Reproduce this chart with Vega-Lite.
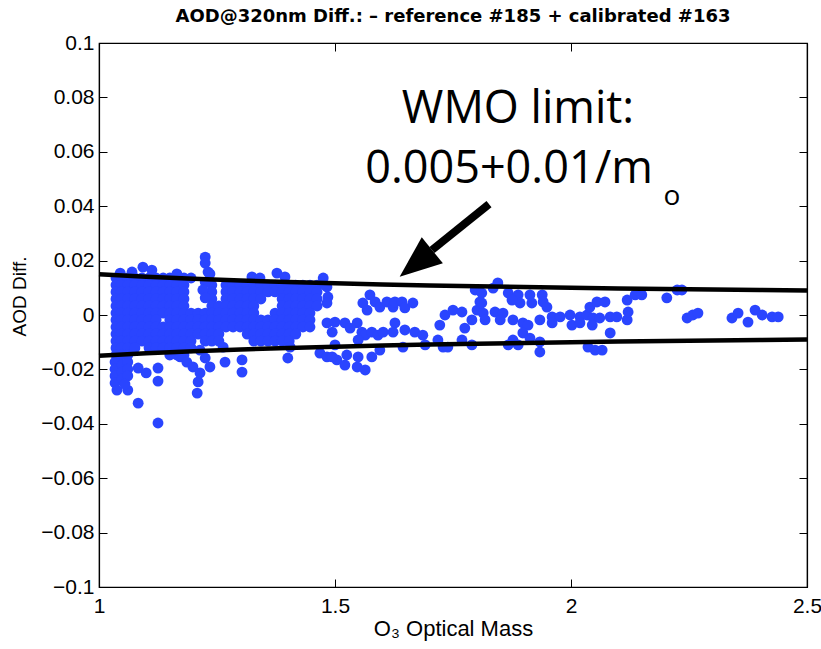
{
  "$schema": "https://vega.github.io/schema/vega-lite/v6.json",
  "width": 708,
  "height": 544,
  "autosize": {"type": "none"},
  "padding": {"left": 99, "top": 43, "right": 14, "bottom": 62},
  "background": "white",
  "title": {"text": "AOD@320nm Diff.: – reference #185 + calibrated #163", "font": "DejaVu Sans", "fontSize": 18, "fontWeight": "bold", "color": "black", "offset": 4, "dy": 12, "baseline": "alphabetic", "anchor": "middle"},
  "config": {
    "view": {"stroke": "black", "strokeWidth": 1.2},
    "axis": {"domain": true, "domainColor": "black", "domainWidth": 1.2, "tickColor": "black", "tickWidth": 1, "grid": false, "labelFont": "Liberation Sans", "labelFontSize": 21, "labelColor": "black", "titleFont": "Liberation Sans", "titleFontWeight": "normal", "titleColor": "black", "tickSize": -8, "labelFlush": false, "labelOverlap": false}
  },
  "datasets": {
    "pts": [
      {"m":1.036,"d":0.0136},{"m":1.047,"d":0.0136},{"m":1.061,"d":0.0136},{"m":1.076,"d":0.0136},{"m":1.091,"d":0.0136},{"m":1.106,"d":0.0136},{"m":1.121,"d":0.0136},{"m":1.136,"d":0.0136},{"m":1.150,"d":0.0136},{"m":1.165,"d":0.0136},{"m":1.180,"d":0.0136},{"m":1.195,"d":0.0136},
      {"m":1.036,"d":0.0110},{"m":1.047,"d":0.0110},{"m":1.061,"d":0.0110},{"m":1.076,"d":0.0110},{"m":1.091,"d":0.0110},{"m":1.106,"d":0.0110},{"m":1.121,"d":0.0110},{"m":1.136,"d":0.0110},{"m":1.150,"d":0.0110},{"m":1.165,"d":0.0110},{"m":1.180,"d":0.0110},
      {"m":1.036,"d":0.0085},{"m":1.047,"d":0.0085},{"m":1.061,"d":0.0085},{"m":1.076,"d":0.0085},{"m":1.091,"d":0.0085},{"m":1.106,"d":0.0085},{"m":1.121,"d":0.0085},{"m":1.136,"d":0.0085},{"m":1.150,"d":0.0085},{"m":1.165,"d":0.0085},{"m":1.180,"d":0.0085},
      {"m":1.036,"d":0.0059},{"m":1.047,"d":0.0059},{"m":1.061,"d":0.0059},{"m":1.076,"d":0.0059},{"m":1.091,"d":0.0059},{"m":1.106,"d":0.0059},{"m":1.121,"d":0.0059},{"m":1.136,"d":0.0059},{"m":1.150,"d":0.0059},{"m":1.165,"d":0.0059},{"m":1.180,"d":0.0059},
      {"m":1.036,"d":0.0033},{"m":1.047,"d":0.0033},{"m":1.061,"d":0.0033},{"m":1.076,"d":0.0033},{"m":1.091,"d":0.0033},{"m":1.106,"d":0.0033},{"m":1.121,"d":0.0033},{"m":1.136,"d":0.0033},{"m":1.150,"d":0.0033},{"m":1.165,"d":0.0033},{"m":1.180,"d":0.0033},
      {"m":1.036,"d":0.0007},{"m":1.047,"d":0.0007},{"m":1.061,"d":0.0007},{"m":1.076,"d":0.0007},{"m":1.091,"d":0.0007},{"m":1.106,"d":0.0007},{"m":1.121,"d":0.0007},{"m":1.136,"d":0.0007},{"m":1.150,"d":0.0007},{"m":1.165,"d":0.0007},{"m":1.180,"d":0.0007},{"m":1.195,"d":0.0007},
      {"m":1.036,"d":-0.0018},{"m":1.047,"d":-0.0018},{"m":1.061,"d":-0.0018},{"m":1.076,"d":-0.0018},{"m":1.091,"d":-0.0018},{"m":1.106,"d":-0.0018},{"m":1.121,"d":-0.0018},{"m":1.150,"d":-0.0018},{"m":1.165,"d":-0.0018},{"m":1.180,"d":-0.0018},{"m":1.195,"d":-0.0018},
      {"m":1.036,"d":-0.0044},{"m":1.047,"d":-0.0044},{"m":1.061,"d":-0.0044},{"m":1.076,"d":-0.0044},{"m":1.091,"d":-0.0044},{"m":1.106,"d":-0.0044},{"m":1.121,"d":-0.0044},{"m":1.136,"d":-0.0044},{"m":1.150,"d":-0.0044},{"m":1.165,"d":-0.0044},{"m":1.180,"d":-0.0044},{"m":1.195,"d":-0.0044},
      {"m":1.036,"d":-0.0070},{"m":1.047,"d":-0.0070},{"m":1.061,"d":-0.0070},{"m":1.076,"d":-0.0070},{"m":1.091,"d":-0.0070},{"m":1.106,"d":-0.0070},{"m":1.121,"d":-0.0070},{"m":1.136,"d":-0.0070},{"m":1.150,"d":-0.0070},{"m":1.165,"d":-0.0070},{"m":1.180,"d":-0.0070},{"m":1.195,"d":-0.0070},
      {"m":1.036,"d":-0.0096},{"m":1.047,"d":-0.0096},{"m":1.061,"d":-0.0096},{"m":1.076,"d":-0.0096},{"m":1.091,"d":-0.0096},{"m":1.106,"d":-0.0096},{"m":1.121,"d":-0.0096},{"m":1.136,"d":-0.0096},{"m":1.150,"d":-0.0096},{"m":1.165,"d":-0.0096},{"m":1.180,"d":-0.0096},{"m":1.195,"d":-0.0096},
      {"m":1.036,"d":-0.0121},{"m":1.047,"d":-0.0121},{"m":1.061,"d":-0.0121},{"m":1.076,"d":-0.0121},{"m":1.106,"d":-0.0121},{"m":1.121,"d":-0.0121},{"m":1.136,"d":-0.0121},{"m":1.150,"d":-0.0121},{"m":1.165,"d":-0.0121},{"m":1.180,"d":-0.0121},{"m":1.195,"d":-0.0121},
      {"m":1.036,"d":-0.0147},{"m":1.047,"d":-0.0147},{"m":1.061,"d":-0.0147},{"m":1.150,"d":-0.0147},{"m":1.165,"d":-0.0147},{"m":1.180,"d":-0.0147},
      {"m":1.239,"d":0.0110},{"m":1.269,"d":0.0110},{"m":1.284,"d":0.0110},{"m":1.299,"d":0.0110},{"m":1.314,"d":0.0110},{"m":1.328,"d":0.0110},{"m":1.343,"d":0.0110},{"m":1.358,"d":0.0110},{"m":1.373,"d":0.0110},{"m":1.388,"d":0.0110},{"m":1.403,"d":0.0110},{"m":1.417,"d":0.0110},{"m":1.432,"d":0.0110},{"m":1.447,"d":0.0110},{"m":1.462,"d":0.0110},
      {"m":1.239,"d":0.0085},{"m":1.269,"d":0.0085},{"m":1.284,"d":0.0085},{"m":1.299,"d":0.0085},{"m":1.314,"d":0.0085},{"m":1.328,"d":0.0085},{"m":1.343,"d":0.0085},{"m":1.358,"d":0.0085},{"m":1.373,"d":0.0085},{"m":1.388,"d":0.0085},{"m":1.403,"d":0.0085},{"m":1.417,"d":0.0085},{"m":1.432,"d":0.0085},{"m":1.447,"d":0.0085},{"m":1.462,"d":0.0085},
      {"m":1.239,"d":0.0059},{"m":1.269,"d":0.0059},{"m":1.284,"d":0.0059},{"m":1.299,"d":0.0059},{"m":1.314,"d":0.0059},{"m":1.328,"d":0.0059},{"m":1.343,"d":0.0059},{"m":1.388,"d":0.0059},{"m":1.403,"d":0.0059},{"m":1.417,"d":0.0059},{"m":1.432,"d":0.0059},{"m":1.447,"d":0.0059},{"m":1.462,"d":0.0059},
      {"m":1.239,"d":0.0033},{"m":1.254,"d":0.0033},{"m":1.269,"d":0.0033},{"m":1.284,"d":0.0033},{"m":1.299,"d":0.0033},{"m":1.314,"d":0.0033},{"m":1.328,"d":0.0033},{"m":1.388,"d":0.0033},{"m":1.403,"d":0.0033},{"m":1.417,"d":0.0033},{"m":1.432,"d":0.0033},{"m":1.447,"d":0.0033},{"m":1.462,"d":0.0033},
      {"m":1.210,"d":0.0007},{"m":1.225,"d":0.0007},{"m":1.239,"d":0.0007},{"m":1.254,"d":0.0007},{"m":1.269,"d":0.0007},{"m":1.284,"d":0.0007},{"m":1.299,"d":0.0007},{"m":1.314,"d":0.0007},{"m":1.328,"d":0.0007},{"m":1.373,"d":0.0007},{"m":1.388,"d":0.0007},{"m":1.403,"d":0.0007},{"m":1.417,"d":0.0007},{"m":1.432,"d":0.0007},{"m":1.447,"d":0.0007},
      {"m":1.210,"d":-0.0018},{"m":1.225,"d":-0.0018},{"m":1.239,"d":-0.0018},{"m":1.254,"d":-0.0018},{"m":1.269,"d":-0.0018},{"m":1.284,"d":-0.0018},{"m":1.299,"d":-0.0018},{"m":1.314,"d":-0.0018},{"m":1.328,"d":-0.0018},{"m":1.343,"d":-0.0018},{"m":1.358,"d":-0.0018},{"m":1.373,"d":-0.0018},{"m":1.388,"d":-0.0018},{"m":1.403,"d":-0.0018},{"m":1.417,"d":-0.0018},{"m":1.432,"d":-0.0018},{"m":1.447,"d":-0.0018},
      {"m":1.210,"d":-0.0044},{"m":1.225,"d":-0.0044},{"m":1.239,"d":-0.0044},{"m":1.254,"d":-0.0044},{"m":1.269,"d":-0.0044},{"m":1.284,"d":-0.0044},{"m":1.299,"d":-0.0044},{"m":1.314,"d":-0.0044},{"m":1.328,"d":-0.0044},{"m":1.343,"d":-0.0044},{"m":1.358,"d":-0.0044},{"m":1.373,"d":-0.0044},{"m":1.388,"d":-0.0044},{"m":1.403,"d":-0.0044},{"m":1.417,"d":-0.0044},{"m":1.432,"d":-0.0044},{"m":1.447,"d":-0.0044},
      {"m":1.210,"d":-0.0070},{"m":1.225,"d":-0.0070},{"m":1.239,"d":-0.0070},{"m":1.254,"d":-0.0070},{"m":1.314,"d":-0.0070},{"m":1.328,"d":-0.0070},{"m":1.343,"d":-0.0070},{"m":1.358,"d":-0.0070},{"m":1.373,"d":-0.0070},{"m":1.388,"d":-0.0070},{"m":1.403,"d":-0.0070},{"m":1.417,"d":-0.0070},
      {"m":1.225,"d":-0.0096},{"m":1.239,"d":-0.0096},{"m":1.254,"d":-0.0096},{"m":1.328,"d":-0.0096},{"m":1.343,"d":-0.0096},{"m":1.358,"d":-0.0096},{"m":1.373,"d":-0.0096},{"m":1.388,"d":-0.0096},{"m":1.403,"d":-0.0096},
      {"m":1.045,"d":0.0154},{"m":1.093,"d":0.0176},{"m":1.112,"d":0.0165},{"m":1.070,"d":0.0158},{"m":1.165,"d":0.0151},
      {"m":1.034,"d":-0.0173},{"m":1.034,"d":-0.0199},{"m":1.034,"d":-0.0224},{"m":1.034,"d":-0.0250},{"m":1.038,"d":-0.0276},{"m":1.049,"d":-0.0184},{"m":1.049,"d":-0.0210},{"m":1.049,"d":-0.0235},{"m":1.061,"d":-0.0173},{"m":1.061,"d":-0.0199},{"m":1.061,"d":-0.0224},{"m":1.061,"d":-0.0276},{"m":1.055,"d":-0.0254},
      {"m":1.083,"d":-0.0195},{"m":1.100,"d":-0.0213},{"m":1.125,"d":-0.0195},{"m":1.125,"d":-0.0243},{"m":1.083,"d":-0.0324},{"m":1.125,"d":-0.0397},{"m":1.172,"d":-0.0154},{"m":1.186,"d":-0.0173},{"m":1.199,"d":-0.0191},{"m":1.214,"d":-0.0129},{"m":1.210,"d":-0.0246},{"m":1.208,"d":-0.0287},{"m":1.214,"d":-0.0213},{"m":1.225,"d":-0.0158},{"m":1.235,"d":-0.0191},
      {"m":1.225,"d":0.0213},{"m":1.225,"d":0.0191},{"m":1.231,"d":0.0158},{"m":1.235,"d":0.0151},{"m":1.225,"d":0.0121},{"m":1.220,"d":0.0092},{"m":1.225,"d":0.0063},
      {"m":1.263,"d":-0.0118},{"m":1.267,"d":-0.0173},{"m":1.303,"d":-0.0165},{"m":1.303,"d":-0.0210},{"m":1.400,"d":-0.0158},{"m":1.405,"d":-0.0118},{"m":1.468,"d":-0.0140},{"m":1.483,"d":-0.0154},{"m":1.504,"d":-0.0165},{"m":1.521,"d":-0.0184},{"m":1.525,"d":-0.0147},
      {"m":1.324,"d":0.0140},{"m":1.341,"d":0.0136},{"m":1.377,"d":0.0154},{"m":1.394,"d":0.0140},{"m":1.475,"d":0.0136},{"m":1.479,"d":0.0110},
      {"m":1.574,"d":0.0074},{"m":1.559,"d":0.0044},{"m":1.568,"d":0.0018},{"m":1.585,"d":0.0048},{"m":1.595,"d":0.0029},{"m":1.610,"d":0.0048},{"m":1.623,"d":0.0029},{"m":1.627,"d":0.0048},{"m":1.642,"d":0.0048},{"m":1.648,"d":0.0026},{"m":1.665,"d":0.0044},
      {"m":1.483,"d":0.0103},{"m":1.485,"d":0.0066},{"m":1.483,"d":0.0044},{"m":1.483,"d":-0.0029},{"m":1.500,"d":-0.0026},{"m":1.521,"d":-0.0029},{"m":1.547,"d":-0.0029},{"m":1.557,"d":-0.0063},{"m":1.564,"d":-0.0074},{"m":1.578,"d":-0.0063},{"m":1.591,"d":-0.0074},{"m":1.602,"d":-0.0063},{"m":1.627,"d":-0.0029},{"m":1.623,"d":-0.0063},{"m":1.648,"d":-0.0055},{"m":1.669,"d":-0.0063},{"m":1.686,"d":-0.0074},{"m":1.494,"d":-0.0063},{"m":1.532,"d":-0.0048},
      {"m":1.549,"d":-0.0092},{"m":1.500,"d":-0.0110},{"m":1.494,"d":-0.0154},{"m":1.547,"d":-0.0191},{"m":1.564,"d":-0.0202},{"m":1.549,"d":-0.0154},{"m":1.578,"d":-0.0154},{"m":1.595,"d":-0.0129},{"m":1.644,"d":-0.0118},{"m":1.691,"d":-0.0110},{"m":1.718,"d":-0.0092},{"m":1.729,"d":-0.0118},{"m":1.739,"d":-0.0118},{"m":1.769,"d":-0.0092},{"m":1.790,"d":-0.0110},
      {"m":1.722,"d":-0.0037},{"m":1.733,"d":0.0},{"m":1.750,"d":0.0018},{"m":1.769,"d":0.0011},{"m":1.775,"d":-0.0048},{"m":1.790,"d":-0.0018},{"m":1.801,"d":0.0018},{"m":1.807,"d":0.0048},{"m":1.797,"d":0.0092},{"m":1.811,"d":0.0081},
      {"m":1.845,"d":0.0118},{"m":1.835,"d":0.0099},{"m":1.867,"d":0.0081},{"m":1.888,"d":0.0074},{"m":1.913,"d":0.0074},{"m":1.939,"d":0.0074},{"m":1.941,"d":0.0048},{"m":1.917,"d":0.0044},{"m":1.949,"d":0.0029},{"m":1.892,"d":0.0044},{"m":1.875,"d":0.0055},
      {"m":1.811,"d":0.0044},{"m":1.814,"d":0.0007},{"m":1.839,"d":0.0011},{"m":1.856,"d":0.0007},{"m":1.877,"d":-0.0018},{"m":1.898,"d":-0.0029},{"m":1.909,"d":-0.0037},{"m":1.934,"d":-0.0018},{"m":1.960,"d":-0.0007},{"m":1.977,"d":-0.0007},{"m":1.998,"d":0.0},{"m":2.019,"d":-0.0007},{"m":2.034,"d":0.0},{"m":2.047,"d":-0.0011},{"m":2.061,"d":-0.0011},{"m":2.083,"d":-0.0007},{"m":2.097,"d":-0.0007},{"m":2.119,"d":-0.0018},{"m":2.121,"d":0.0011},
      {"m":1.960,"d":-0.0029},{"m":2.002,"d":-0.0037},{"m":2.019,"d":-0.0029},{"m":2.045,"d":-0.0037},{"m":2.083,"d":-0.0066},{"m":2.040,"d":0.0029},{"m":2.055,"d":0.0048},{"m":2.072,"d":0.0048},{"m":2.119,"d":0.0055},{"m":2.136,"d":0.0074},{"m":2.150,"d":0.0074},
      {"m":1.898,"d":-0.0066},{"m":1.913,"d":-0.0085},{"m":1.934,"d":-0.0099},{"m":1.877,"d":-0.0092},{"m":1.867,"d":-0.0110},{"m":1.888,"d":-0.0110},{"m":1.934,"d":-0.0136},{"m":2.036,"d":-0.0118},{"m":2.051,"d":-0.0129},{"m":2.066,"d":-0.0129},{"m":1.818,"d":-0.0018},{"m":1.850,"d":-0.0018},
      {"m":2.203,"d":0.0063},{"m":2.225,"d":0.0092},{"m":2.235,"d":0.0092},{"m":2.246,"d":-0.0011},{"m":2.258,"d":0.0},{"m":2.269,"d":0.0007},{"m":2.341,"d":-0.0011},{"m":2.354,"d":0.0007},{"m":2.375,"d":-0.0026},{"m":2.390,"d":0.0018},{"m":2.405,"d":0.0},{"m":2.426,"d":-0.0007},{"m":2.439,"d":-0.0007}
    ],
    "lim": [
      {"m":1.0,"up":0.015,"lo":-0.015},{"m":1.1,"up":0.014091,"lo":-0.014091},{"m":1.2,"up":0.013333,"lo":-0.013333},{"m":1.3,"up":0.012692,"lo":-0.012692},{"m":1.4,"up":0.012143,"lo":-0.012143},{"m":1.5,"up":0.011667,"lo":-0.011667},{"m":1.6,"up":0.01125,"lo":-0.01125},{"m":1.7,"up":0.010882,"lo":-0.010882},{"m":1.8,"up":0.010556,"lo":-0.010556},{"m":1.9,"up":0.010263,"lo":-0.010263},{"m":2.0,"up":0.01,"lo":-0.01},{"m":2.1,"up":0.009762,"lo":-0.009762},{"m":2.2,"up":0.009545,"lo":-0.009545},{"m":2.3,"up":0.009348,"lo":-0.009348},{"m":2.4,"up":0.009167,"lo":-0.009167},{"m":2.5,"up":0.009,"lo":-0.009}
    ]
  },
  "resolve": {"axis": {"x": "independent", "y": "independent"}},
  "layer": [
    {
      "data": {"name": "pts"},
      "mark": {"type": "circle", "size": 118, "color": "#2a45ff", "opacity": 1},
      "encoding": {
        "x": {"field": "m", "type": "quantitative", "scale": {"domain": [1, 2.5], "nice": false, "zero": false},
              "axis": {"orient": "bottom", "values": [1, 1.5, 2, 2.5], "format": "~g", "labelPadding": 16, "title": "O₃ Optical Mass", "titleFontSize": 22, "titleBaseline": "alphabetic", "titleY": 48, "titleX": 354}},
        "y": {"field": "d", "type": "quantitative", "scale": {"domain": [-0.1, 0.1], "nice": false, "zero": false},
              "axis": {"orient": "left", "values": [-0.1, -0.08, -0.06, -0.04, -0.02, 0, 0.02, 0.04, 0.06, 0.08, 0.1], "format": "~g", "labelPadding": 13, "title": "AOD Diff.", "titleFontSize": 19, "titleAngle": -90, "titleBaseline": "alphabetic", "titleAlign": "center", "titleX": -74, "titleY": 253}}
      }
    },
    {
      "data": {"name": "lim"},
      "mark": {"type": "line", "color": "black", "strokeWidth": 4.5},
      "encoding": {
        "x": {"field": "m", "type": "quantitative", "axis": null},
        "y": {"field": "up", "type": "quantitative", "axis": null}
      }
    },
    {
      "data": {"name": "lim"},
      "mark": {"type": "line", "color": "black", "strokeWidth": 4.5},
      "encoding": {
        "x": {"field": "m", "type": "quantitative", "axis": {"orient": "top", "values": [1, 1.5, 2, 2.5], "labels": false, "title": null}},
        "y": {"field": "lo", "type": "quantitative", "axis": {"orient": "right", "values": [-0.1, -0.08, -0.06, -0.04, -0.02, 0, 0.02, 0.04, 0.06, 0.08, 0.1], "labels": false, "title": null}}
      }
    },
    {
      "data": {"values": [{}]},
      "mark": {"type": "rule", "color": "black", "strokeWidth": 8, "strokeCap": "butt"},
      "encoding": {
        "x": {"datum": 1.8263, "type": "quantitative", "axis": null},
        "y": {"datum": 0.0408, "type": "quantitative", "axis": null},
        "x2": {"datum": 1.7055},
        "y2": {"datum": 0.0239}
      }
    },
    {
      "data": {"values": [{}]},
      "mark": {"type": "point", "shape": "M0,-1L0.8,1L-0.8,1Z", "filled": true, "color": "black", "opacity": 1, "size": 1764, "angle": 231, "strokeWidth": 0},
      "encoding": {
        "x": {"datum": 1.6716, "type": "quantitative", "axis": null},
        "y": {"datum": 0.01893, "type": "quantitative", "axis": null}
      }
    },
    {
      "data": {"values": [{}]},
      "mark": {"type": "text", "text": "WMO limit:", "font": "Open Sans", "fontSize": 45, "color": "black", "align": "center", "baseline": "alphabetic"},
      "encoding": {
        "x": {"datum": 1.8877, "type": "quantitative", "axis": null},
        "y": {"datum": 0.0706, "type": "quantitative", "axis": null}
      }
    },
    {
      "data": {"values": [{}]},
      "mark": {"type": "text", "text": "0.005+0.01/m", "font": "Open Sans", "fontSize": 45, "color": "black", "align": "center", "baseline": "alphabetic"},
      "encoding": {
        "x": {"datum": 1.8686, "type": "quantitative", "axis": null},
        "y": {"datum": 0.0485, "type": "quantitative", "axis": null}
      }
    },
    {
      "data": {"values": [{}]},
      "mark": {"type": "text", "text": "o", "font": "Open Sans", "fontSize": 28, "color": "black", "align": "center", "baseline": "alphabetic"},
      "encoding": {
        "x": {"datum": 2.214, "type": "quantitative", "axis": null},
        "y": {"datum": 0.0404, "type": "quantitative", "axis": null}
      }
    }
  ]
}
